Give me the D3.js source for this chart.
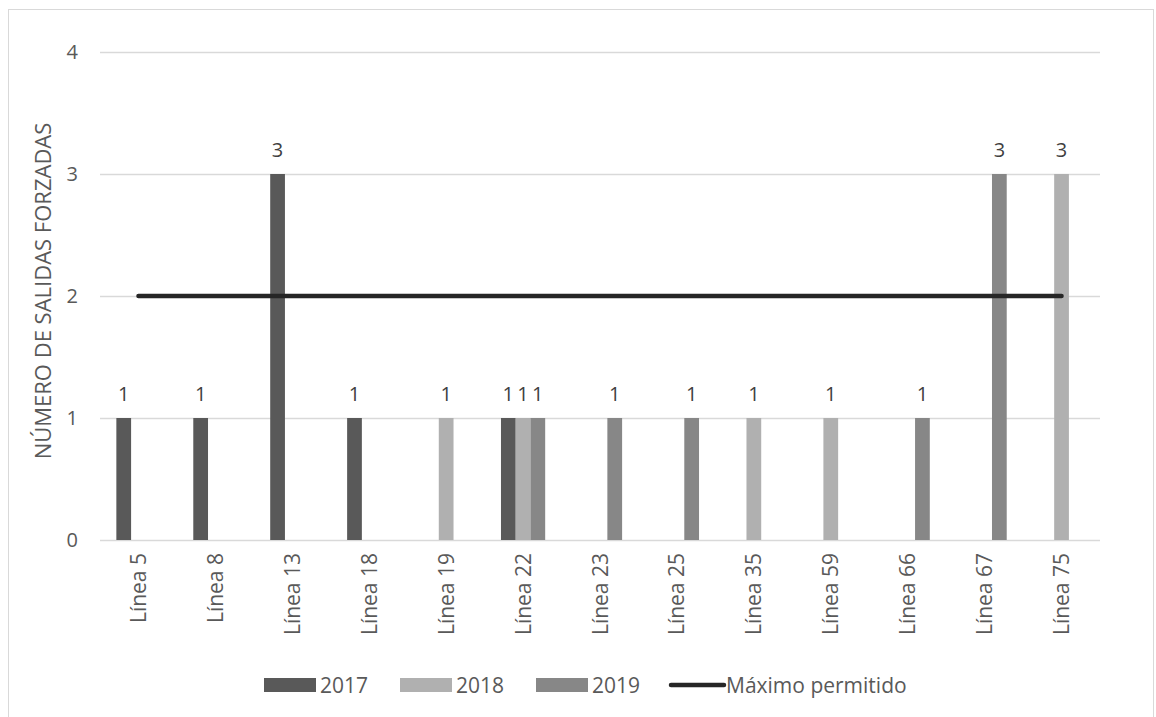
<!DOCTYPE html>
<html>
<head>
<meta charset="utf-8">
<script src="https://cdn.jsdelivr.net/npm/d3@7"></script>
<style>
  body { margin: 0; background: #fff; }
  text { font-family: "Open Sans", sans-serif; }
</style>
</head>
<body>
<div id="chart"></div>
<script>
// categories and series
const categories = ["Línea 5", "Línea 8", "Línea 13", "Línea 18", "Línea 19", "Línea 22", "Línea 23",
  "Línea 25", "Línea 35", "Línea 59", "Línea 66", "Línea 67", "Línea 75"];
const seriesNames = ["2017", "2018", "2019"];
const values2017 = [1, 1, 3, 1, null, 1, null, null, null, null, null, null, null];
const values2018 = [null, null, null, null, 1, 1, null, null, 1, 1, null, null, 3];
const values2019 = [null, null, null, null, null, 1, 1, 1, null, null, 1, 3, null];
const maxAllowed = [2, 2, 2, 2, 2, 2, 2, 2, 2, 2, 2, 2, 2];
const yTicks = [0, 1, 2, 3, 4];
const lineName = "Máximo permitido";
const yTitle = "NÚMERO DE SALIDAS FORZADAS";

const colors = { "2017": "#595959", "2018": "#b0b0b0", "2019": "#878787" };
const textColor = "#595959";

const width = 1156, height = 717;
const plot = { left: 100, right: 1100, top: 52, bottom: 540 };

const svg = d3.select("#chart").append("svg")
    .attr("width", width)
    .attr("height", height);

// chart frame
svg.append("rect")
    .attr("x", 8.5).attr("y", 9.5)
    .attr("width", 1145).attr("height", 730)
    .attr("fill", "white")
    .attr("stroke", "#d9d9d9");

const x = d3.scaleBand()
    .domain(categories)
    .range([plot.left, plot.right]);

const xInner = d3.scaleBand()
    .domain(seriesNames)
    .range([0, x.bandwidth()])
    .paddingOuter(1.11);

const y = d3.scaleLinear()
    .domain([0, 4])
    .range([plot.bottom, plot.top]);

// gridlines
svg.append("g")
    .selectAll("line")
    .data(yTicks)
    .join("line")
    .attr("x1", plot.left).attr("x2", plot.right)
    .attr("y1", d => y(d) + 0.5).attr("y2", d => y(d) + 0.5)
    .attr("stroke", "#d9d9d9")
    .attr("stroke-width", 1.3);

// y tick labels
svg.append("g")
    .attr("font-size", 20)
    .attr("fill", textColor)
    .attr("text-anchor", "end")
  .selectAll("text")
  .data(yTicks)
  .join("text")
    .attr("x", 78)
    .attr("y", d => y(d))
    .attr("dy", "0.36em")
    .text(d => d);

// y title
svg.append("text")
    .attr("transform", "translate(43,291) rotate(-90)")
    .attr("text-anchor", "middle")
    .attr("dy", "0.35em")
    .attr("font-size", 22)
    .attr("fill", textColor)
    .text(yTitle);

// x labels
svg.append("g")
    .attr("font-size", 21)
    .attr("fill", textColor)
    .attr("text-anchor", "end")
  .selectAll("text")
  .data(categories)
  .join("text")
    .attr("transform", d => `translate(${x(d) + x.bandwidth() / 2},553) rotate(-90)`)
    .attr("dy", "0.36em")
    .text(d => d);

// bars
const seriesValues = { "2017": values2017, "2018": values2018, "2019": values2019 };
const barData = [];
seriesNames.forEach(s => {
  seriesValues[s].forEach((v, i) => {
    if (v != null) barData.push({ series: s, cat: categories[i], value: v });
  });
});

svg.append("g")
  .selectAll("rect")
  .data(barData)
  .join("rect")
    .attr("x", d => x(d.cat) + xInner(d.series))
    .attr("y", d => y(d.value))
    .attr("width", xInner.bandwidth())
    .attr("height", d => y(0) - y(d.value))
    .attr("fill", d => colors[d.series]);

// max allowed line
const line = d3.line()
    .x((d, i) => x(categories[i]) + x.bandwidth() / 2)
    .y(d => y(d));

svg.append("path")
    .attr("d", line(maxAllowed))
    .attr("fill", "none")
    .attr("stroke", "#262626")
    .attr("stroke-width", 4.5)
    .attr("stroke-linecap", "round");

// data labels
svg.append("g")
    .attr("font-size", 20)
    .attr("fill", "#404040")
    .attr("text-anchor", "middle")
  .selectAll("text")
  .data(barData)
  .join("text")
    .attr("x", d => x(d.cat) + xInner(d.series) + xInner.bandwidth() / 2)
    .attr("y", d => y(d.value) - 17)
    .text(d => d.value);

// legend
const legend = svg.append("g")
    .attr("font-size", 21)
    .attr("fill", textColor);

const legendX = [264, 400, 536];
seriesNames.forEach((s, i) => {
  legend.append("rect")
      .attr("x", legendX[i]).attr("y", 678)
      .attr("width", 52).attr("height", 14)
      .attr("fill", colors[s]);
  legend.append("text")
      .attr("x", legendX[i] + 56).attr("y", 685)
      .attr("dy", "0.36em")
      .text(s);
});
legend.append("line")
    .attr("x1", 671).attr("x2", 724)
    .attr("y1", 685).attr("y2", 685)
    .attr("stroke", "#262626")
    .attr("stroke-width", 4.5)
    .attr("stroke-linecap", "round");
legend.append("text")
    .attr("x", 726).attr("y", 685)
    .attr("dy", "0.36em")
    .text(lineName);
</script>
</body>
</html>
